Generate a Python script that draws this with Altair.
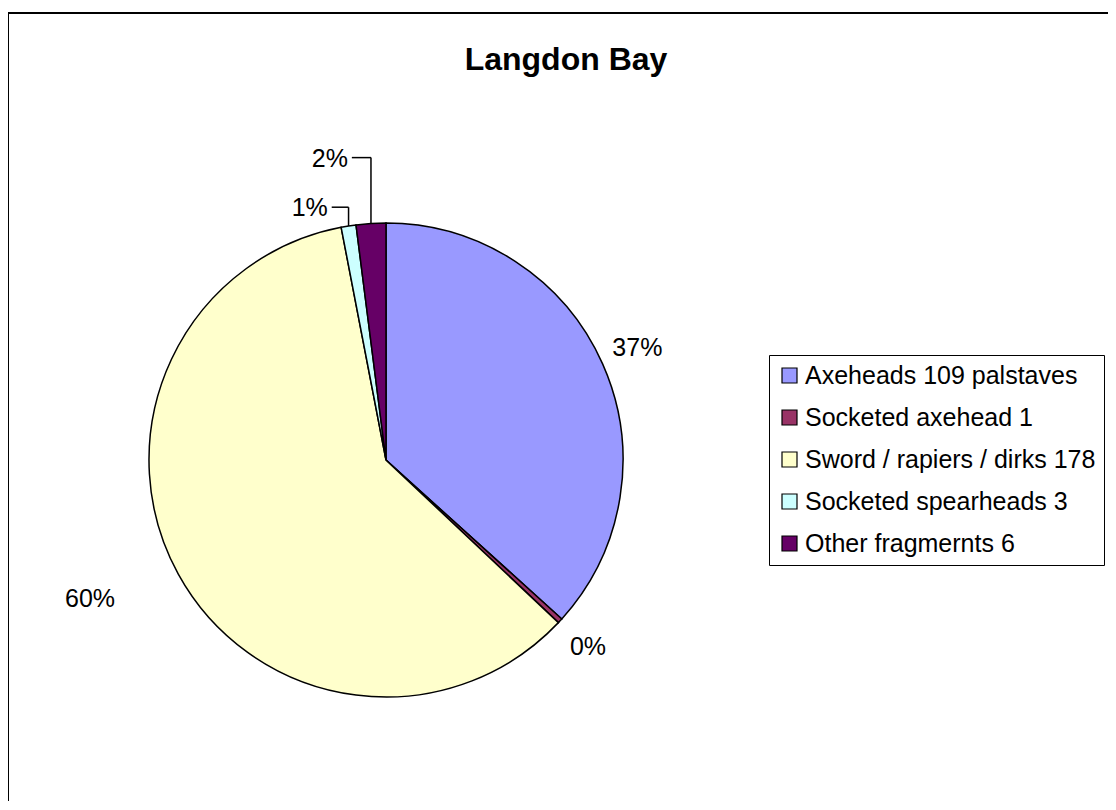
import altair as alt
import pandas as pd

# ---- data ----
categories = [
    "Axeheads 109 palstaves",
    "Socketed axehead 1",
    "Sword / rapiers / dirks 178",
    "Socketed spearheads 3",
    "Other fragmernts 6",
]
counts = [109, 1, 178, 3, 6]
colors = ["#9999FF", "#993366", "#FFFFCC", "#CCFFFF", "#660066"]
title_text = "Langdon Bay"

df = pd.DataFrame({"category": categories, "count": counts, "idx": list(range(len(categories)))})

# ---- layout constants ----
W, H = 1100, 788
CX, CY, R = 378, 447, 237
FONT = "Liberation Sans"

base = (
    alt.Chart(df)
    .transform_joinaggregate(total="sum(count)")
    .transform_window(cum="sum(count)", sort=[alt.SortField("idx")])
    .transform_calculate(
        pct="round(datum.count / datum.total * 100) + '%'",
        mid="(datum.cum - datum.count / 2) / datum.total * 2 * PI",
    )
)

color = alt.Color(
    "category:N",
    scale=alt.Scale(domain=categories, range=colors),
    sort=categories,
    legend=alt.Legend(
        orient="none",
        legendX=761,
        legendY=342,
        direction="vertical",
        title=None,
        symbolType="square",
        symbolSize=225,
        symbolStrokeColor="black",
        symbolStrokeWidth=1.2,
        symbolOpacity=1,
        labelFont=FONT,
        labelFontSize=25,
        labelColor="black",
        labelLimit=0,
        labelOffset=3,
        rowPadding=16,
        padding=8,
        strokeColor="black",
        fillColor="white",
    ),
)

arcs = base.mark_arc(outerRadius=R, stroke="black", strokeWidth=1.5).encode(
    theta=alt.Theta("count:Q", stack=True),
    order=alt.Order("idx:Q"),
    color=color,
    x=alt.value(CX),
    y=alt.value(CY),
)

def label_layer(cond, radius, dx=0, dy=0):
    return base.transform_filter(cond).mark_text(
        font=FONT, fontSize=25, color="black", align="center", baseline="middle",
        radius=radius, dx=dx, dy=dy,
    ).encode(
        theta=alt.Theta("mid:Q", scale=None),
        text="pct:N",
        x=alt.value(CX),
        y=alt.value(CY),
    )

lab_main = label_layer("datum.idx <= 1", 275)
lab_60 = label_layer("datum.idx == 2", 300, dx=-33, dy=-5)
lab_1 = label_layer("datum.idx == 3", 255, dx=-36)
lab_2 = label_layer("datum.idx == 4", 302, dx=-37, dy=0)

leader_base = base.transform_filter("datum.idx >= 3").transform_calculate(
    lr="datum.idx == 3 ? 255 : 302",
    ldx="datum.idx == 3 ? -36 : -37",
).transform_calculate(
    lx=f"{CX} + datum.lr * sin(datum.mid) + datum.ldx + 22",
    ly=f"{CY} - datum.lr * cos(datum.mid) - 1",
    ax=f"{CX} + {R} * sin(datum.mid)",
    ay=f"{CY} - {R} * cos(datum.mid)",
)

lead_h = leader_base.mark_rule(color="black", strokeWidth=1.5).encode(
    x=alt.X("lx:Q", scale=None),
    x2="ax:Q",
    y=alt.Y("ly:Q", scale=None),
)
lead_v = leader_base.mark_rule(color="black", strokeWidth=1.5).encode(
    x=alt.X("ax:Q", scale=None),
    y=alt.Y("ly:Q", scale=None),
    y2="ay:Q",
)

title = alt.Chart(pd.DataFrame({"t": [title_text]})).mark_text(
    font=FONT, fontSize=32, fontWeight="bold", color="black", align="center", baseline="alphabetic",
).encode(text="t:N", x=alt.value(558), y=alt.value(57))

border_top = alt.Chart(pd.DataFrame({"t": [0]})).mark_rule(color="black", strokeWidth=2).encode(
    x=alt.value(0), x2=alt.value(W + 10), y=alt.value(0)
)
border_left = alt.Chart(pd.DataFrame({"t": [0]})).mark_rule(color="black", strokeWidth=2).encode(
    x=alt.value(0), y=alt.value(0), y2=alt.value(H + 10)
)

chart = (
    alt.layer(arcs, lab_main, lab_60, lab_1, lab_2, lead_h, lead_v, title, border_top, border_left)
    .properties(
        width=W,
        height=H,
        padding={"top": 5, "left": 0, "right": 0, "bottom": 0},
        autosize=alt.AutoSizeParams(type="none"),
        background="white",
    )
    .configure_view(strokeWidth=0)
)

chart.save("out.html", embed_options={"renderer": "svg", "actions": False})
